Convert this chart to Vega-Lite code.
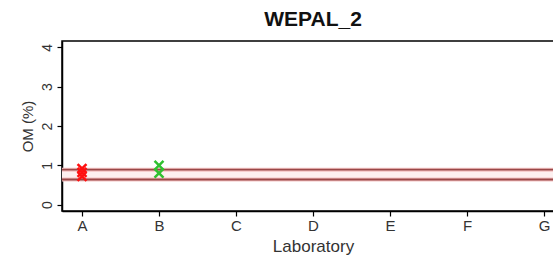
{
  "$schema": "https://vega.github.io/schema/vega-lite/v6.json",
  "autosize": {"type": "none"},
  "padding": {"left": 62, "top": 41, "right": 0, "bottom": 53},
  "width": 502,
  "height": 170,
  "background": "white",
  "title": {"text": "WEPAL_2", "font": "Liberation Sans", "fontSize": 21, "fontWeight": "bold", "color": "#111", "offset": 11, "anchor": "middle"},
  "config": {
    "view": {"stroke": "#000", "strokeWidth": 1.5},
    "axis": {"grid": false, "labelFont": "Liberation Sans", "titleFont": "Liberation Sans", "labelColor": "#333", "titleColor": "#333", "titleFontWeight": "normal", "domainColor": "#000", "tickColor": "#000", "tickSize": 5, "domainWidth": 1.5, "tickWidth": 1.2}
  },
  "datasets": {
    "pts": [
      {"lab": "A", "om": 0.92},
      {"lab": "A", "om": 0.82},
      {"lab": "A", "om": 0.72},
      {"lab": "B", "om": 1.0},
      {"lab": "B", "om": 0.8}
    ],
    "band": [{"lo": 0.64, "hi": 0.89}]
  },
  "layer": [
    {
      "data": {"name": "band"},
      "mark": {"type": "rect", "color": "#fdf0f0"},
      "encoding": {"y": {"field": "lo", "type": "quantitative"}, "y2": {"field": "hi"}}
    },
    {
      "data": {"name": "band"},
      "mark": {"type": "rule", "color": "#f4c4c4", "strokeWidth": 4},
      "encoding": {"y": {"field": "lo", "type": "quantitative"}}
    },
    {
      "data": {"name": "band"},
      "mark": {"type": "rule", "color": "#f4c4c4", "strokeWidth": 4},
      "encoding": {"y": {"field": "hi", "type": "quantitative"}}
    },
    {
      "data": {"name": "band"},
      "mark": {"type": "rule", "color": "#9a4848", "strokeWidth": 1.8},
      "encoding": {"y": {"field": "lo", "type": "quantitative"}}
    },
    {
      "data": {"name": "band"},
      "mark": {"type": "rule", "color": "#9a4848", "strokeWidth": 1.8},
      "encoding": {"y": {"field": "hi", "type": "quantitative"}}
    },
    {
      "data": {"name": "pts"},
      "mark": {"type": "point", "shape": "M-1,-1L1,1M1,-1L-1,1", "filled": false, "size": 80, "strokeWidth": 2.5, "opacity": 1},
      "encoding": {
        "x": {"field": "lab", "type": "ordinal", "scale": {"type": "point", "domain": ["A", "B", "C", "D", "E", "F", "G"], "padding": 0.26},
              "axis": {"title": "Laboratory", "labelAngle": 0, "labelFontSize": 15, "titleFontSize": 17, "labelPadding": 2, "titlePadding": 5}},
        "y": {"field": "om", "type": "quantitative", "scale": {"domain": [-0.16, 4.16], "nice": false, "zero": false},
              "axis": {"title": "OM (%)", "values": [0, 1, 2, 3, 4], "labelFontSize": 14, "titleFontSize": 15, "labelAngle": 270, "labelAlign": "center", "labelBaseline": "bottom", "labelPadding": 3, "titlePadding": 5}},
        "color": {"field": "lab", "type": "nominal", "scale": {"domain": ["A", "B"], "range": ["#ff1010", "#30c030"]}, "legend": null}
      }
    }
  ]
}
